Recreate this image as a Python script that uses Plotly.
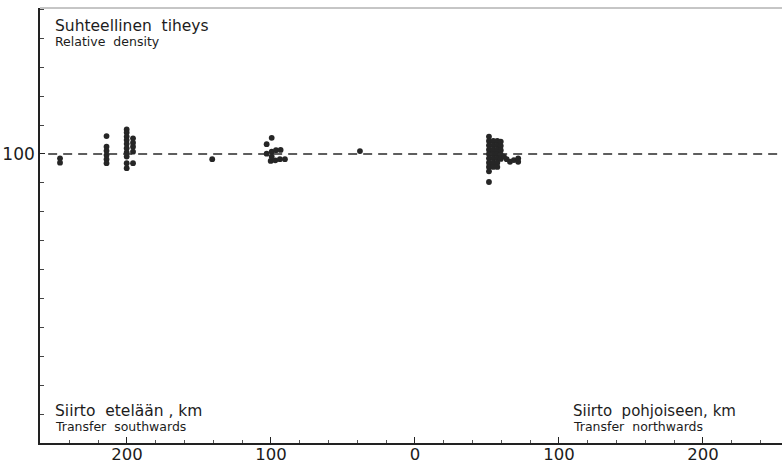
import plotly.graph_objects as go

# Transfer distance of each planted stand (km; negative = southwards, positive = northwards)
transfer_km = [
    # far south
    -246.5, -246.5,
    -214.2, -214.2, -214.2, -214.2, -214.2, -214.2,
    -200.2, -200.2, -200.2, -200.2, -200.2, -200.2, -200.2, -200.2, -200.2, -200.2,
    -195.8, -195.8, -195.8, -195.8, -195.8,
    -140.8,
    # around 100 km south
    -99.5, -103.0, -103.0, -99.5, -96.5, -93.3, -100.2, -97.0, -93.8, -90.3, -99.5,
    -38.2,
    # around 50 km north
    51.4, 51.4, 51.4, 51.4, 51.4, 51.4, 51.4, 51.4, 51.4, 51.4,
    54.4, 54.4, 54.4, 54.4, 54.4, 54.4, 54.4,
    57.2, 57.2, 57.2, 57.2, 57.2, 57.2, 57.2,
    59.6, 59.6, 59.6, 59.6, 59.6,
    61.8, 63.7, 66.0, 68.7, 71.7, 71.7,
]

# Relative stand density of each site (local provenance = 100)
relative_density = [
    98.5, 97.0,
    106.2, 102.5, 101.1, 99.6, 98.2, 96.8,
    108.5, 107.4, 106.0, 104.8, 103.5, 102.0, 100.5, 99.1, 96.8, 95.1,
    105.4, 103.9, 102.5, 100.8, 96.8,
    98.2,
    105.6, 103.4, 100.1, 100.8, 101.3, 101.4, 97.6, 97.8, 98.2, 98.2, 99.1,
    101.0,
    106.0, 104.5, 103.0, 101.5, 100.0, 98.5, 97.0, 95.5, 94.0, 90.3,
    104.5, 103.0, 101.5, 100.0, 98.5, 97.0, 95.5,
    104.5, 103.0, 101.5, 100.0, 98.5, 97.0, 95.5,
    104.3, 102.8, 101.3, 99.8, 98.3,
    99.1, 98.2, 97.3, 97.9, 98.5, 97.3,
]

REFERENCE_LEVEL = 100

x_tick_vals = [-200, -100, 0, 100, 200]
x_tick_text = ["200", "100", "0", "100", "200"]
y_tick_vals = [100]
y_tick_text = ["100"]

FONT = "DejaVu Sans"
INK = "#1c1c1c"

fig = go.Figure()

fig.add_trace(go.Scatter(
    x=transfer_km,
    y=relative_density,
    mode="markers",
    marker=dict(size=5.8, color="#262626", line=dict(width=0)),
    hoverinfo="x+y",
    showlegend=False,
))

# dashed reference level
fig.add_shape(
    type="line", xref="paper", yref="y",
    x0=0.011, x1=1.0, y0=REFERENCE_LEVEL, y1=REFERENCE_LEVEL,
    line=dict(color="#2a2a2a", width=1.4, dash="9px,6px"),
)
# thin top frame line
fig.add_shape(
    type="line", xref="paper", yref="paper",
    x0=0, x1=1, y0=1, y1=1,
    line=dict(color="#8c8c8c", width=1),
)

annotations = [
    dict(text="Suhteellinen\u00a0 tiheys", x=0.0175, y=0.958, size=15.5),
    dict(text="Relative\u00a0 density", x=0.0175, y=0.923, size=12.5),
    dict(text="Siirto\u00a0 etelään , km", x=0.0175, y=0.0736, size=15.5),
    dict(text="Transfer\u00a0 southwards", x=0.0175, y=0.039, size=12.5),
    dict(text="Siirto\u00a0 pohjoiseen, km", x=0.7156, y=0.0736, size=15.0),
    dict(text="Transfer\u00a0 northwards", x=0.7156, y=0.039, size=12.5),
]
for a in annotations:
    fig.add_annotation(
        text=a["text"], x=a["x"], y=a["y"], xref="paper", yref="paper",
        xanchor="left", yanchor="middle", showarrow=False,
        font=dict(family=FONT, size=a["size"], color=INK),
    )

fig.update_layout(
    width=782, height=464,
    margin=dict(l=40, r=0, t=8, b=21),
    paper_bgcolor="white",
    plot_bgcolor="white",
    showlegend=False,
    xaxis=dict(
        range=[-260.4, 254.9],
        automargin=False,
        tickvals=x_tick_vals, ticktext=x_tick_text,
        ticks="inside", ticklen=6, tickwidth=1.2, tickcolor="#222",
        ticklabelstandoff=-5,
        showline=True, linecolor="#222", linewidth=1.6,
        showgrid=False, zeroline=False,
        tickfont=dict(family=FONT, size=16.5, color=INK),
        minor=dict(dtick=20, tick0=0, ticks="inside", ticklen=3,
                   tickwidth=1, tickcolor="#555", showgrid=False),
    ),
    yaxis=dict(
        range=[0, 150.5],
        automargin=False,
        tickvals=y_tick_vals, ticktext=y_tick_text,
        ticks="inside", ticklen=5, tickwidth=1.2, tickcolor="#222",
        showline=True, linecolor="#222", linewidth=1.6,
        showgrid=False, zeroline=False,
        tickfont=dict(family=FONT, size=17, color=INK),
        minor=dict(dtick=10, tick0=0, ticks="inside", ticklen=4,
                   tickwidth=1, tickcolor="#444", showgrid=False),
    ),
)

fig.write_html("out.html")
